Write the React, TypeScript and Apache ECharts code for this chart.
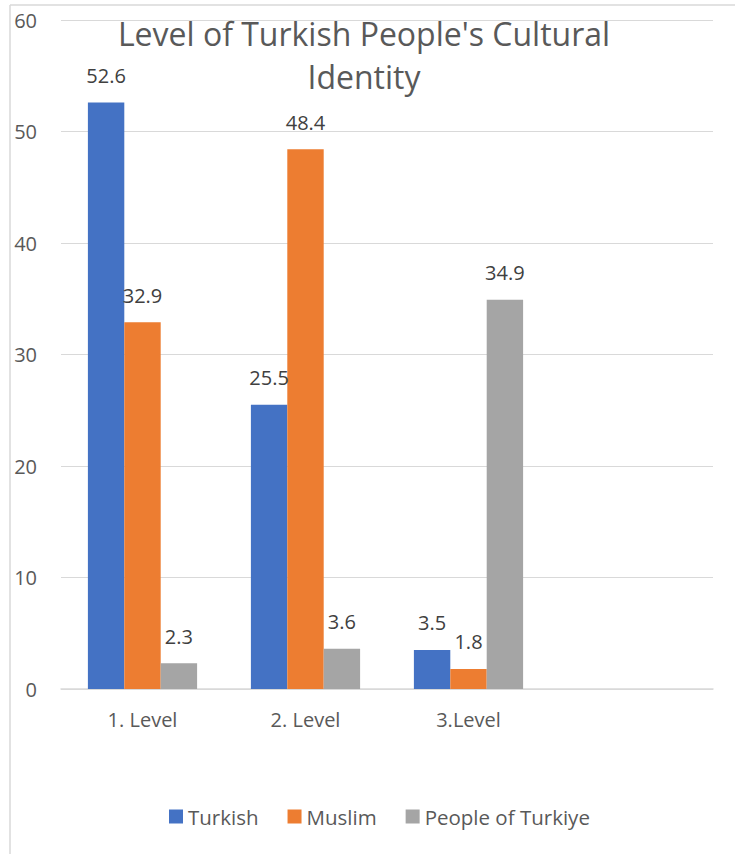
import React, { useEffect, useRef } from "react";
import * as echarts from "echarts";

const categories = ["1. Level", "2. Level", "3.Level", ""];
const turkish = [52.6, 25.5, 3.5, "-"];
const muslim = [32.9, 48.4, 1.8, "-"];
const peopleOfTurkiye = [2.3, 3.6, 34.9, "-"];
const seriesNames = ["Turkish", "Muslim", "People of Turkiye"];
const colors = ["#4472C4", "#ED7D31", "#A5A5A5"];
const titleText = "Level of Turkish People's Cultural\nIdentity";

const FONT = "'Open Sans', 'Noto Sans', sans-serif";

export default function App() {
  const ref = useRef<HTMLDivElement>(null);
  useEffect(() => {
    if (!ref.current) return;
    const chart = echarts.init(ref.current, undefined, { renderer: "svg" });
    const mk = (name: string, data: any[], color: string) => ({
      name,
      type: "bar",
      data,
      barGap: "0%",
      barCategoryGap: "33%",
      itemStyle: { color },
      label: {
        show: true,
        position: "top",
        distance: 17,
        color: "#404040",
        fontSize: 20,
        fontFamily: FONT,
      },
    });
    chart.setOption({
      animation: false,
      textStyle: { fontFamily: FONT },
      title: {
        text: titleText,
        left: 359,
        textAlign: "center",
        top: 7,
        textStyle: {
          fontSize: 32,
          fontWeight: "normal",
          color: "#595959",
          lineHeight: 43,
          fontFamily: FONT,
        },
      },
      grid: { left: 61, right: 22, top: 20, bottom: 165 },
      legend: {
        bottom: 22,
        left: 164,
        itemWidth: 14,
        itemHeight: 14,
        itemGap: 29,
        itemTextGap: 6,
        icon: "rect",
        textStyle: { fontSize: 20.5, color: "#595959", fontFamily: FONT },
        data: seriesNames,
      },
      xAxis: {
        type: "category",
        data: categories,
        axisLine: { lineStyle: { color: "#D9D9D9", width: 1.5 } },
        axisTick: { show: false },
        axisLabel: { color: "#595959", fontSize: 20, margin: 20, fontFamily: FONT },
      },
      yAxis: {
        type: "value",
        min: 0,
        max: 60,
        interval: 10,
        splitLine: { lineStyle: { color: "#D9D9D9", width: 1 } },
        axisLine: { show: false },
        axisTick: { show: false },
        axisLabel: { color: "#595959", fontSize: 20, margin: 24, fontFamily: FONT },
      },
      graphic: [
        {
          type: "line",
          shape: { x1: 10, y1: 5, x2: 735, y2: 5 },
          style: { stroke: "#D9D9D9", lineWidth: 1.5 },
        },
        {
          type: "line",
          shape: { x1: 10, y1: 5, x2: 10, y2: 854 },
          style: { stroke: "#D9D9D9", lineWidth: 1.5 },
        },
      ],
      series: [
        mk(seriesNames[0], turkish, colors[0]),
        mk(seriesNames[1], muslim, colors[1]),
        mk(seriesNames[2], peopleOfTurkiye, colors[2]),
      ],
    });
    return () => chart.dispose();
  }, []);
  return (
    <div
      ref={ref}
      style={{ position: "fixed", left: 0, top: 0, width: 735, height: 854, background: "#fff" }}
    />
  );
}
